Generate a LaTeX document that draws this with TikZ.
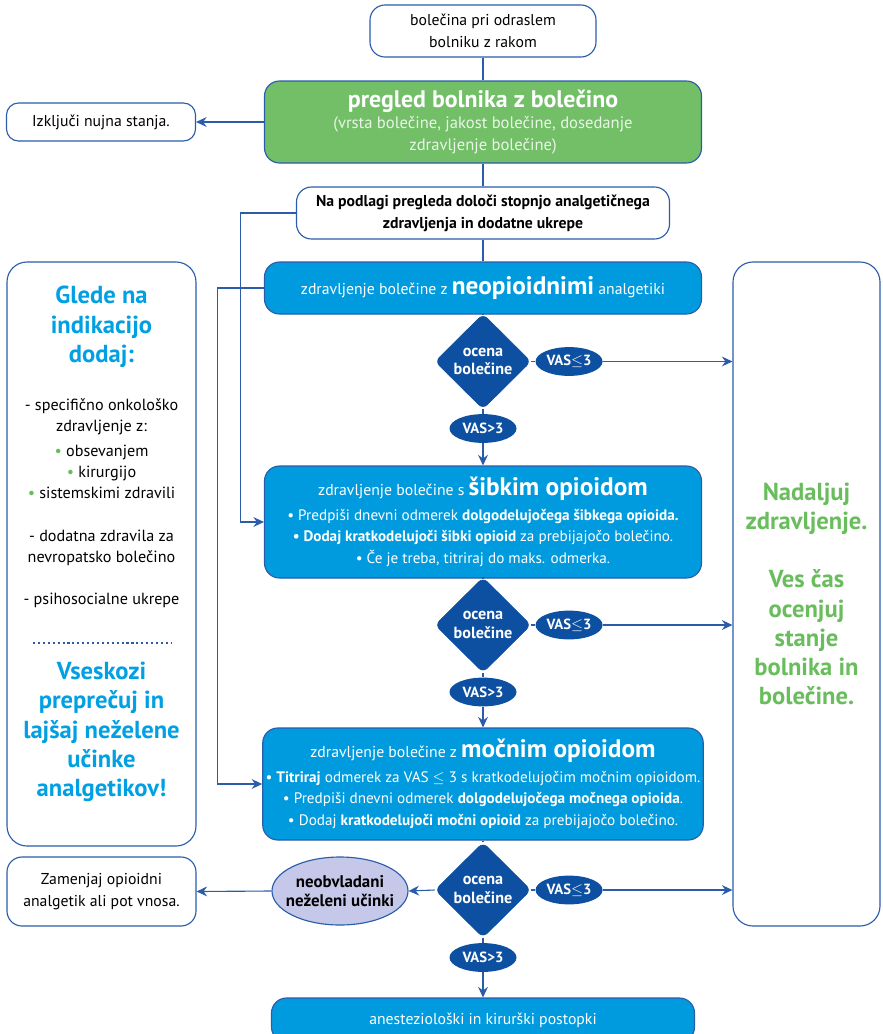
\documentclass[tikz,border=0pt]{standalone}
\usepackage{fontspec}
\setmainfont{PT Sans}
\usetikzlibrary{shapes.geometric, arrows.meta, positioning, math, calc}

\definecolor{lineblue}{HTML}{2A5CAA}
\definecolor{boxblue}{HTML}{009BDE}
\definecolor{darkblue}{HTML}{0D4FA0}
\definecolor{boxgreen}{HTML}{72BF68}
\definecolor{textgreen}{HTML}{6ABD5D}
\definecolor{textcyan}{HTML}{00A0E3}
\definecolor{lavender}{HTML}{C5C8E8}

\newcommand{\bodyfont}{\fontsize{11.2}{15.5}\selectfont}
\newcommand{\bulletfont}{\fontsize{10.8}{15}\selectfont}
\newcommand{\headfont}{\fontsize{18}{20}\selectfont\bfseries}
\newcommand{\panelfont}{\fontsize{17.5}{20.8}\selectfont\bfseries}

\begin{document}
\begin{tikzpicture}[x=0.25mm, y=-0.25mm, >={Stealth[length=7.5pt, width=7pt, inset=2.5pt]}]
		\tikzmath{
			\colX    = 483;    %x of main column
			\colW    = 109.25; %width of main column boxes
			\lineH   = 13;     %height of one line boxes
			\tallH   = 28;     %height of boxes with bullets
			\sideW   = 47.25;  %width of left side boxes
		}
		\tikzstyle{Base} = [
			align=center,
			draw=lineblue,
			line width=0.8pt,
			rounded corners=3.75mm,
			inner sep=2pt,
			font=\bodyfont
		]
		\tikzstyle{WhiteBox} = [
			fill=white,
			Base
		]
		\tikzstyle{BlueBox} = [
			fill=boxblue,
			text=white,
			minimum width=\colW mm,
			Base
		]
		\tikzstyle{GreenBox} = [
			fill=boxgreen,
			text=white,
			Base
		]
		\tikzstyle{Decision} = [
			diamond, aspect=1,
			fill=darkblue, draw=darkblue,
			rounded corners=1.5mm,
			minimum width=24mm, minimum height=23.8mm,
			inner sep=-1.5mm,
			text=white, align=center,
			font=\fontsize{11.5}{13}\selectfont\bfseries
		]
		\tikzstyle{Vas} = [
			ellipse, fill=darkblue, text=white,
			minimum width=16.75mm, minimum height=7.2mm, inner sep=0pt,
			font=\fontsize{10.5}{12}\selectfont\bfseries
		]
		\tikzstyle{Line} = [draw=lineblue, line width=0.8pt]
		\tikzstyle{Arrow} = [Line, ->]

		\useasboundingbox (0,0) rectangle (882,1034);

		%%%%%%%%%%%%%%%%%%%%%%%%%%===---START AND EXAM---===%%%%%%%%%%%%%%%%%%%%%%%%%%
		\node (start) [WhiteBox, minimum width=56.5mm, minimum height=\lineH mm] at (\colX,31)
			{bolečina pri odraslem\\bolniku z rakom};
		\node (exam) [GreenBox, minimum width=\colW mm, minimum height=20.5mm] at (\colX,122)
			{{\fontsize{17}{20}\selectfont\bfseries pregled bolnika z bolečino}\\
			 {\fontsize{11.8}{15.5}\selectfont\color{white!85!boxgreen}(vrsta bolečine, jakost bolečine, dosedanje}\\
			 {\fontsize{11.8}{15.5}\selectfont\color{white!85!boxgreen}zdravljenje bolečine)}};
		\node (exclude) [WhiteBox, minimum width=\sideW mm, minimum height=9.5mm, rounded corners=3mm] at (101,122)
			{Izključi nujna stanja.};
		\node (decide) [WhiteBox, minimum width=93.25mm, minimum height=\lineH mm, font=\bodyfont\bfseries] at (\colX,213)
			{Na podlagi pregleda določi stopnjo analgetičnega\\zdravljenja in dodatne ukrepe};
		\draw [Line] (start.south) -- (exam.north);
		\draw [Arrow] (exam.west) -- (exclude.east |- exam.west);
		\draw [Line] (exam.south) -- (decide.north);
		%%%%%%%%%%%%%%%%%%%%%%%%%%===---NON-OPIOID---===%%%%%%%%%%%%%%%%%%%%%%%%%%
		\node (neo) [BlueBox, minimum height=\lineH mm] at (\colX,288)
			{zdravljenje bolečine z {\headfont neopioidnimi} analgetiki};
		\node (d1) [Decision] at (\colX,361.5) {ocena\\bolečine};
		\node (v1le) [Vas, right = 1mm of d1] {VAS$\leq$3};
		\node (v1gt) [Vas] at (\colX,428.5) {VAS>3};
		\draw [Line] (decide.south) -- (neo.north);
		\draw [Line] (neo.south) -- (d1.north);
		\draw [Line] (d1.south) -- (v1gt.north);
		\draw [Line] (d1.east) -- (v1le.west);
		%%%%%%%%%%%%%%%%%%%%%%%%%%===---WEAK OPIOID---===%%%%%%%%%%%%%%%%%%%%%%%%%%
		\node (weak) [BlueBox, minimum height=\tallH mm] at (\colX,522)
			{zdravljenje bolečine s {\headfont šibkim opioidom}\\[2pt]
			 {\bulletfont • Predpiši dnevni odmerek \textbf{dolgodelujočega šibkega opioida.}}\\
			 {\bulletfont\bfseries • Dodaj kratkodelujoči šibki opioid \mdseries za prebijajočo bolečino.}\\
			 {\bulletfont • Če je treba, titriraj do maks. odmerka.}};
		\node (d2) [Decision] at (\colX,625) {ocena\\bolečine};
		\node (v2le) [Vas, right = 1mm of d2] {VAS$\leq$3};
		\node (v2gt) [Vas] at (\colX,692) {VAS>3};
		\draw [Arrow] (v1gt.south) -- (weak.north);
		\draw [Line] (weak.south) -- (d2.north);
		\draw [Line] (d2.south) -- (v2gt.north);
		\draw [Line] (d2.east) -- (v2le.west);
		%%%%%%%%%%%%%%%%%%%%%%%%%%===---STRONG OPIOID---===%%%%%%%%%%%%%%%%%%%%%%%%%%
		\node (strong) [BlueBox, minimum height=\tallH mm] at (\colX,784)
			{zdravljenje bolečine z {\headfont močnim opioidom}\\[2pt]
			 {\bulletfont • \textbf{Titriraj} odmerek za VAS $\leq$ 3 s kratkodelujočim močnim opioidom.}\\
			 {\bulletfont • Predpiši dnevni odmerek \textbf{dolgodelujočega močnega opioida}.}\\
			 {\bulletfont • Dodaj \textbf{kratkodelujoči močni opioid} za prebijajočo bolečino.}};
		\node (d3) [Decision] at (\colX,890) {ocena\\bolečine};
		\node (v3le) [Vas, right = 1mm of d3] {VAS$\leq$3};
		\node (v3gt) [Vas] at (\colX,957.5) {VAS>3};
		\node (uneff) [ellipse, fill=lavender, draw=lineblue, line width=0.8pt, minimum width=34mm, minimum height=17mm,
			inner sep=-1.8mm, align=center, font=\fontsize{12}{13.5}\selectfont\bfseries] at (340,891) {neobvladani\\neželeni učinki};
		\node (swap) [WhiteBox, minimum width=\sideW mm, minimum height=17.25mm] at (101.5,891.5)
			{Zamenjaj opioidni\\analgetik ali pot vnosa.};
		\node (final) [BlueBox, minimum width=105.75mm, minimum height=11mm] at (\colX,1020)
			{anesteziološki in kirurški postopki}; % cut by the page edge
		\draw [Arrow] (v2gt.south) -- (strong.north);
		\draw [Line] (strong.south) -- (d3.north);
		\draw [Line] (d3.south) -- (v3gt.north);
		\draw [Line] (d3.east) -- (v3le.west);
		\draw [Arrow] (d3.west) -- (uneff.east);
		\draw [Arrow] (uneff.west) -- (swap.east);
		\draw [Arrow] (v3gt.south) -- (final.north);
		%%%%%%%%%%%%%%%%%%%%%%%%%%===---SIDE PANELS---===%%%%%%%%%%%%%%%%%%%%%%%%%%
		\node (cont) [WhiteBox, minimum width=36.75mm, minimum height=166mm, rounded corners=5mm] at (806.5,594) {};
		\node (contText) at (cont) [text=textgreen, font=\panelfont, align=center]
			{Nadaljuj\\zdravljenje.\\[20.8pt]Ves čas\\ocenjuj\\stanje\\bolnika in\\bolečine.};
		\draw [Arrow] (v1le.east) -- (v1le.east -| cont.west);
		\draw [Arrow] (v2le.east) -- (v2le.east -| cont.west);
		\draw [Arrow] (v3le.east) -- (v3le.east -| cont.west);

		\node (add) [WhiteBox, minimum width=\sideW mm, minimum height=146mm, rounded corners=5mm] at (101.5,554) {};
		\node (addHead) at (101.5,327) [text=textcyan, font=\panelfont, align=center] {Glede na\\indikacijo\\dodaj:};
		\node (addList) at (101.5,503) [align=center, font=\fontsize{11.5}{15}\selectfont]
			{- specifično onkološko\\zdravljenje z:\\[3pt]
			 {\color{textgreen}•} obsevanjem\\
			 {\color{textgreen}•} kirurgijo\\
			 {\color{textgreen}•} sistemskimi zdravili\\[15pt]
			 - dodatna zdravila za\\nevropatsko bolečino\\[15pt]
			 - psihosocialne ukrepe};
		\draw [lineblue, dotted, line width=1.5pt] (33,643) -- (172,643);
		\node (addEnd) at (101.5,732) [text=textcyan, font=\panelfont, align=center]
			{Vseskozi\\preprečuj in\\lajšaj neželene\\učinke\\analgetikov!};
		%%%%%%%%%%%%%%%%%%%%%%%%%%===---FEEDBACK LINES---===%%%%%%%%%%%%%%%%%%%%%%%%%%
		\draw [Arrow] (decide.west) -- ++(-55,0) |- (weak.west);
		\draw [Arrow] (neo.west) -- ++(-46,0) |- (strong.west);
\end{tikzpicture}
\end{document}
